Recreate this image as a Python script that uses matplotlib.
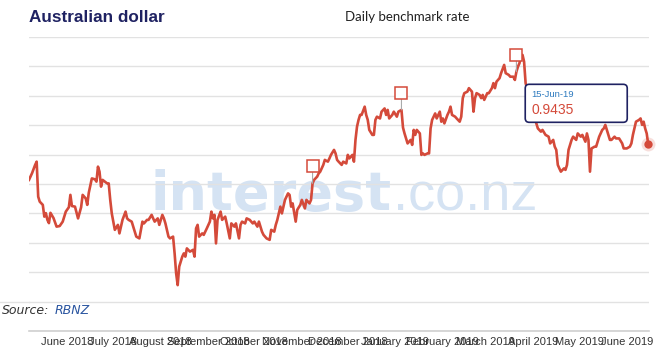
import matplotlib
matplotlib.use("Agg")
import matplotlib.pyplot as plt
import matplotlib.dates as mdates
import matplotlib.transforms as mtransforms
from matplotlib.patches import FancyBboxPatch
from matplotlib.lines import Line2D
from datetime import datetime, timedelta

# Series data (days after startDate, rate)
startDate = datetime(2018, 5, 7)
dayOffsets = [
    0, 2, 4, 5, 6, 7, 9, 10, 11, 12, 13, 14, 16, 18, 20, 22, 24, 26, 27, 28,
    30, 32, 34, 35, 37, 38, 39, 41, 43, 44, 45, 46, 47, 48, 51, 52, 53, 54, 56, 58,
    59, 61, 63, 64, 65, 67, 68, 70, 72, 73, 74, 75, 77, 78, 80, 81,
    82, 84, 85, 87, 88, 89, 91, 92, 94, 95, 96, 97, 98, 100, 101, 102, 103, 105, 107, 108,
    109, 110, 111, 113, 114, 116, 118, 119, 120, 121, 122, 123, 125, 126, 128, 129, 131, 132, 134, 135,
    137, 138, 139, 141, 142, 144, 146, 147, 149, 150, 152, 153, 155, 157, 158, 160, 161,
    162, 164, 165, 167, 169, 170, 171, 172, 174, 175, 177, 178, 180, 181, 183, 184, 185, 186, 188,
    189, 190, 192, 193, 195, 196, 197, 199, 200, 201, 202, 204, 205, 207, 208, 209, 211, 212, 213, 214,
    215, 216, 217, 219, 220, 221, 222, 224, 225, 226, 227, 229, 230, 232, 233, 234, 235, 237, 238, 240,
    241, 243, 244, 245, 246, 247, 249, 250, 251, 252, 253, 254, 255, 256, 257, 258, 260, 261, 262, 263,
    265, 266, 268, 269, 270, 271, 273, 274, 275, 276, 278, 279, 281, 282, 283, 284, 286, 287, 289, 290,
    291, 292, 294, 295, 296, 297, 299, 300, 302, 303, 304, 305, 307, 308, 310, 311, 313, 314, 316, 317,
    318, 319, 320, 321, 322, 323, 324, 327, 329, 331, 332, 334, 335, 337, 339, 340, 342, 343, 344, 345,
    346, 347, 349, 350, 351, 352, 354, 355, 357, 358, 360, 361, 363, 364, 365, 366, 367, 369, 370, 372,
    374, 375, 376, 377, 379, 380, 382, 383, 385, 387, 388, 390, 392, 393, 394, 395, 396, 398, 399, 400,
    401, 402, 403, 404,
]
rates = [
    0.9314, 0.9337, 0.9365, 0.9376, 0.9257, 0.9240, 0.9229, 0.9189, 0.9201, 0.9178,
    0.9167, 0.9202, 0.9184, 0.9155, 0.9157, 0.9172, 0.9206, 0.9221, 0.9263, 0.9225,
    0.9223, 0.9183, 0.9221, 0.9263, 0.9251, 0.9229, 0.9270, 0.9319, 0.9316, 0.9308,
    0.9359, 0.9342, 0.9291, 0.9314, 0.9302, 0.9302, 0.9246, 0.9200, 0.9144, 0.9161,
    0.9132, 0.9178, 0.9206, 0.9183, 0.9178, 0.9172, 0.9155, 0.9121, 0.9115, 0.9144,
    0.9172, 0.9166, 0.9178, 0.9178, 0.9195, 0.9183,
    0.9172, 0.9183, 0.9161, 0.9195, 0.9183, 0.9166, 0.9121, 0.9115, 0.9121, 0.9064,
    0.8996, 0.8956, 0.9019, 0.9053, 0.9064, 0.9053, 0.9081, 0.9070, 0.9076, 0.9053,
    0.9149, 0.9161, 0.9121, 0.9132, 0.9127, 0.9149, 0.9172, 0.9206, 0.9183, 0.9195,
    0.9098, 0.9178, 0.9206, 0.9178, 0.9189, 0.9166, 0.9115, 0.9166, 0.9155, 0.9166,
    0.9115, 0.9161, 0.9172, 0.9166, 0.9183, 0.9178, 0.9166, 0.9172, 0.9155, 0.9172,
    0.9138, 0.9127, 0.9115, 0.9110, 0.9144, 0.9138, 0.9161,
    0.9178, 0.9223, 0.9200, 0.9246, 0.9268, 0.9263, 0.9223, 0.9234, 0.9172, 0.9212,
    0.9229, 0.9246, 0.9217, 0.9246, 0.9234, 0.9246, 0.9302, 0.9314, 0.9325, 0.9336,
    0.9342, 0.9365, 0.9382, 0.9376, 0.9387, 0.9399, 0.9416, 0.9404, 0.9382, 0.9376,
    0.9365, 0.9376, 0.9370, 0.9399, 0.9387, 0.9399, 0.9376, 0.9450, 0.9495, 0.9518,
    0.9535, 0.9535, 0.9563, 0.9535, 0.9518, 0.9484, 0.9467, 0.9467, 0.9518, 0.9529,
    0.9523, 0.9546, 0.9557, 0.9535, 0.9552, 0.9523, 0.9535, 0.9546, 0.9529, 0.9546,
    0.9552, 0.9492, 0.9472, 0.9455, 0.9438, 0.9450, 0.9433, 0.9484, 0.9467, 0.9484,
    0.9478, 0.9472, 0.9399, 0.9404, 0.9399, 0.9404, 0.9404, 0.9489, 0.9518, 0.9540,
    0.9523, 0.9546, 0.9512, 0.9523, 0.9506, 0.9535, 0.9546, 0.9563, 0.9535, 0.9529,
    0.9523, 0.9512, 0.9529, 0.9592, 0.9609, 0.9614, 0.9626, 0.9614, 0.9546, 0.9592,
    0.9609, 0.9603, 0.9592, 0.9603, 0.9586, 0.9609, 0.9609, 0.9626, 0.9643, 0.9626,
    0.9648, 0.9660, 0.9677, 0.9705, 0.9677, 0.9671, 0.9665, 0.9665, 0.9654, 0.9682,
    0.9699, 0.9711, 0.9739, 0.9739, 0.9716, 0.9643, 0.9586, 0.9545, 0.9506, 0.9489,
    0.9478, 0.9484, 0.9467, 0.9461, 0.9438, 0.9450, 0.9427, 0.9416, 0.9365, 0.9353,
    0.9342, 0.9353, 0.9348, 0.9365, 0.9416, 0.9450, 0.9461, 0.9450, 0.9472, 0.9461,
    0.9467, 0.9444, 0.9472, 0.9450, 0.9342, 0.9421, 0.9427, 0.9427, 0.9461, 0.9484,
    0.9489, 0.9501, 0.9484, 0.9450, 0.9450, 0.9461, 0.9455, 0.9455, 0.9438, 0.9421,
    0.9421, 0.9427, 0.9438, 0.9467, 0.9489, 0.9512, 0.9518, 0.9523, 0.9501, 0.9512,
    0.9489, 0.9472, 0.9435,
]
flagDays = [185, 243, 318]
monthTicks = [datetime(2018, m, 1) for m in range(6, 13)] + [datetime(2019, m, 1) for m in range(1, 7)]
tooltipDate = "15-Jun-19"
tooltipValue = "0.9435"

lineColor = "#d44a3a"
navy = "#1f2262"
gridColor = "#e2e2e2"

dates = [startDate + timedelta(days=d) for d in dayOffsets]
flagDates = [startDate + timedelta(days=d) for d in flagDays]
flagRates = [rates[dayOffsets.index(d)] for d in flagDays]

fig = plt.figure(figsize=(6.6, 3.56), dpi=100)
ax = fig.add_axes((29 / 660, 1 - 331 / 356, 620 / 660, 294 / 356))

ax.set_ylim(0.88, 0.98)
ax.set_xlim(startDate, dates[-1] + timedelta(days=0.5))
ax.set_yticks([0.88 + 0.01 * i for i in range(11)])
ax.yaxis.set_ticklabels([])
ax.tick_params(axis="y", length=0)
ax.grid(True, axis="y", color=gridColor, linewidth=1)
ax.set_axisbelow(True)

ax.set_xticks(monthTicks)
ax.xaxis.set_major_formatter(mdates.DateFormatter("%B %Y"))
ax.tick_params(axis="x", length=0, pad=4, labelsize=8, labelcolor="#333333")
for lbl in ax.get_xticklabels():
    lbl.set_fontfamily("Liberation Sans")

for side in ["left", "right", "top"]:
    ax.spines[side].set_visible(False)
ax.spines["bottom"].set_color("#d0d0d0")
ax.spines["bottom"].set_linewidth(1.2)

# the lowest grid line runs on to the left edge, under the source note
gy = 1 - 302 / 356
fig.add_artist(Line2D([0, 29 / 660], [gy, gy], color=gridColor, linewidth=1))

# watermark
ax.text((392 - 29) / 620, 0.41, "interest", transform=ax.transAxes, ha="right", va="baseline",
        fontsize=39, fontweight="bold", color="#d5e3f3", family="DejaVu Sans", zorder=0.2)
ax.text((393 - 29) / 620, 0.41, ".co.nz", transform=ax.transAxes, ha="left", va="baseline",
        fontsize=39, color="#d5e3f3", family="Liberation Sans", zorder=0.2)

ax.plot(dates, rates, color=lineColor, linewidth=1.9, zorder=3, solid_joinstyle="round")

# flags above the series
flagTrans = mtransforms.offset_copy(ax.transData, fig=fig, x=0, y=17, units="dots")
for fd, fr in zip(flagDates, flagRates):
    ax.annotate("", xy=(fd, fr), xytext=(0, 11), textcoords="offset pixels",
                arrowprops=dict(arrowstyle="-", color="#aaaaaa", lw=0.8, shrinkA=0, shrinkB=0), zorder=4)
    ax.plot([fd], [fr], marker="s", markersize=8, markerfacecolor="white",
            markeredgecolor=lineColor, markeredgewidth=1.1, transform=flagTrans, zorder=5)

# hovered last point
ax.plot([dates[-1]], [rates[-1]], marker="o", markersize=10, color=lineColor, alpha=0.18,
        markeredgewidth=0, clip_on=False, zorder=5)
ax.plot([dates[-1]], [rates[-1]], marker="o", markersize=6, color=lineColor,
        markeredgewidth=0, clip_on=False, zorder=6)

# tooltip, positioned relative to the hovered point (pixels)
fig.canvas.draw()
px, py = ax.transData.transform((mdates.date2num(dates[-1]), rates[-1]))
boxLeft, boxRight = px - 123, px - 21
boxBottom, boxTop = py + 22, py + 60
box = FancyBboxPatch((boxLeft, boxBottom), boxRight - boxLeft, boxTop - boxBottom,
                     boxstyle="round,pad=0,rounding_size=4", transform=None,
                     facecolor="white", edgecolor=navy, linewidth=1.2, zorder=10)
fig.patches.append(box)
fig.text((boxLeft + 6) / 660, (boxTop - 10) / 356, tooltipDate, ha="left", va="center",
         fontsize=6.8, color="#2f7bbf", family="Liberation Sans", zorder=11)
fig.text((boxLeft + 6) / 660, (boxTop - 26) / 356, tooltipValue, ha="left", va="center",
         fontsize=10, color=lineColor, family="Liberation Sans", zorder=11)

# header
fig.text(29 / 660, 1 - 17 / 356, "Australian dollar", ha="left", va="center",
         fontsize=12.3, fontweight="bold", color=navy, family="Liberation Sans")
fig.text(407 / 660, 1 - 17 / 356, "Daily benchmark rate", ha="center", va="center",
         fontsize=9.5, color="#222222", family="Lato")

# source
fig.text(2 / 660, 1 - 311 / 356, "Source:", ha="left", va="center",
         fontsize=9, style="italic", color="#333333", family="DejaVu Sans")
fig.text(55 / 660, 1 - 311 / 356, "RBNZ", ha="left", va="center",
         fontsize=9, style="italic", color="#2a55a0", family="DejaVu Sans")

plt.savefig("out.png", dpi=100)
